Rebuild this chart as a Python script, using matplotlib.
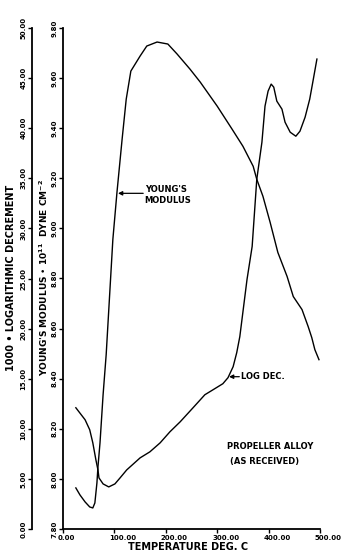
import matplotlib
matplotlib.use("Agg")
import matplotlib.pyplot as plt
from matplotlib.ticker import FormatStrFormatter
from matplotlib.transforms import ScaledTranslation

plt.rcParams['font.family'] = ['DejaVu Sans']
plt.rcParams['font.weight'] = 'bold'

# log decrement (x1000) vs temperature
temp_logdec = [25, 43, 52, 58, 64, 68, 70, 78, 89, 101,
               111, 124, 150, 169, 189, 208, 228, 253, 276, 292,
               311, 321, 331, 338, 344, 358, 368, 377, 387, 393,
               399, 405, 410, 416, 426, 432, 442, 453, 461, 471,
               480, 486, 494]
logdec = [12.1, 10.9, 9.9, 8.6, 6.9, 5.9, 5.1, 4.5, 4.2, 4.5,
          5.1, 5.9, 7.1, 7.7, 8.6, 9.7, 10.7, 12.1, 13.4, 13.9,
          14.5, 15.1, 16.2, 17.6, 19.2, 24.9, 28.2, 34.9, 38.6, 42.2,
          43.7, 44.4, 44.1, 42.7, 41.9, 40.6, 39.6, 39.2, 39.7, 41.1,
          42.9, 44.6, 46.9]

# young's modulus (x1e11 dyne/cm2) vs temperature
temp_ym = [25, 33, 43, 52, 58, 62, 66, 68, 72, 78,
           84, 97, 105, 115, 123, 132, 150, 163, 183, 204,
           222, 247, 267, 300, 329, 350, 370, 377, 389, 403,
           418, 436, 448, 465, 477, 484, 490, 498]
ym = [7.964, 7.936, 7.908, 7.888, 7.884, 7.904, 7.984, 8.048, 8.144, 8.336,
      8.496, 8.956, 9.144, 9.356, 9.516, 9.628, 9.688, 9.728, 9.744, 9.736,
      9.696, 9.636, 9.584, 9.488, 9.396, 9.328, 9.248, 9.196, 9.128, 9.024,
      8.904, 8.808, 8.728, 8.676, 8.608, 8.564, 8.516, 8.476]

x_ticks = [0, 100, 200, 300, 400, 500]
ym_ticks = [7.8, 8.0, 8.2, 8.4, 8.6, 8.8, 9.0, 9.2, 9.4, 9.6, 9.8]
ld_ticks = [0, 5, 10, 15, 20, 25, 30, 35, 40, 45, 50]

W, H = 346, 553
fig = plt.figure(figsize=(W / 100, H / 100), dpi=100)
ax = fig.add_axes([63 / W, 24 / H, 257 / W, 501 / H])
ax2 = ax.twinx()

ax.set_xlim(0, 500)
ax.set_ylim(7.8, 9.8)
ax2.set_ylim(0, 50)

for s in ['top', 'right']:
    ax.spines[s].set_visible(False)
for s in ['top', 'right', 'bottom']:
    ax2.spines[s].set_visible(False)
ax2.yaxis.set_ticks_position('left')
ax2.spines['left'].set_visible(True)
ax2.spines['left'].set_position(('axes', -31 / 257))
for sp in [ax.spines['left'], ax.spines['bottom'], ax2.spines['left']]:
    sp.set_linewidth(1.3)

ax.set_xticks(x_ticks)
ax.set_yticks(ym_ticks)
ax2.set_yticks(ld_ticks)
ax.xaxis.set_major_formatter(FormatStrFormatter('%.2f'))
ax.yaxis.set_major_formatter(FormatStrFormatter('%.2f'))
ax2.yaxis.set_major_formatter(FormatStrFormatter('%.2f'))

tick_kw = dict(direction='out', length=3, width=1, labelsize=5, pad=1.0)
ax.tick_params(axis='x', **tick_kw)
ax.tick_params(axis='y', labelrotation=90, **tick_kw)
ax2.tick_params(axis='y', labelrotation=90, **tick_kw)
for lbl in ax.get_yticklabels() + ax2.get_yticklabels():
    lbl.set_va('center')
for lbl in ax.get_xticklabels():
    lbl.set_ha('left')
    lbl.set_transform(lbl.get_transform() + ScaledTranslation(-0.05, 0, fig.dpi_scale_trans))

ax.plot(temp_ym, ym, color='black', lw=1.0)
ax2.plot(temp_logdec, logdec, color='black', lw=1.0)

arrow = dict(arrowstyle='-|>', color='black', lw=0.9, mutation_scale=6,
             shrinkA=0, shrinkB=0)
ax.annotate('', xy=(107, 9.14), xytext=(156, 9.14), arrowprops=arrow)
ax.text(159, 9.175, "YOUNG'S\nMODULUS", fontsize=6, ha='left', va='top',
        linespacing=1.3)
ax2.annotate('', xy=(323, 15.2), xytext=(343, 15.2), arrowprops=arrow)
ax2.text(346, 15.2, "LOG DEC.", fontsize=6, ha='left', va='center')
ax2.text(319, 8.2, "PROPELLER ALLOY", fontsize=6, ha='left', va='center')
ax2.text(325, 6.7, "(AS RECEIVED)", fontsize=6, ha='left', va='center')

fig.text(188 / W, 1 - 547 / H, "TEMPERATURE DEG. C", fontsize=7,
         ha='center', va='center')
fig.text(11 / W, 1 - 278 / H, "1000 \u2022 LOGARITHMIC DECREMENT", fontsize=7,
         rotation=90, ha='center', va='center')
fig.text(44 / W, 1 - 278 / H,
         "YOUNG'S MODULUS \u2022 10$^{11}$  DYNE CM$^{-2}$", fontsize=6.5,
         rotation=90, ha='center', va='center')

fig.savefig('out.png', dpi=100)
